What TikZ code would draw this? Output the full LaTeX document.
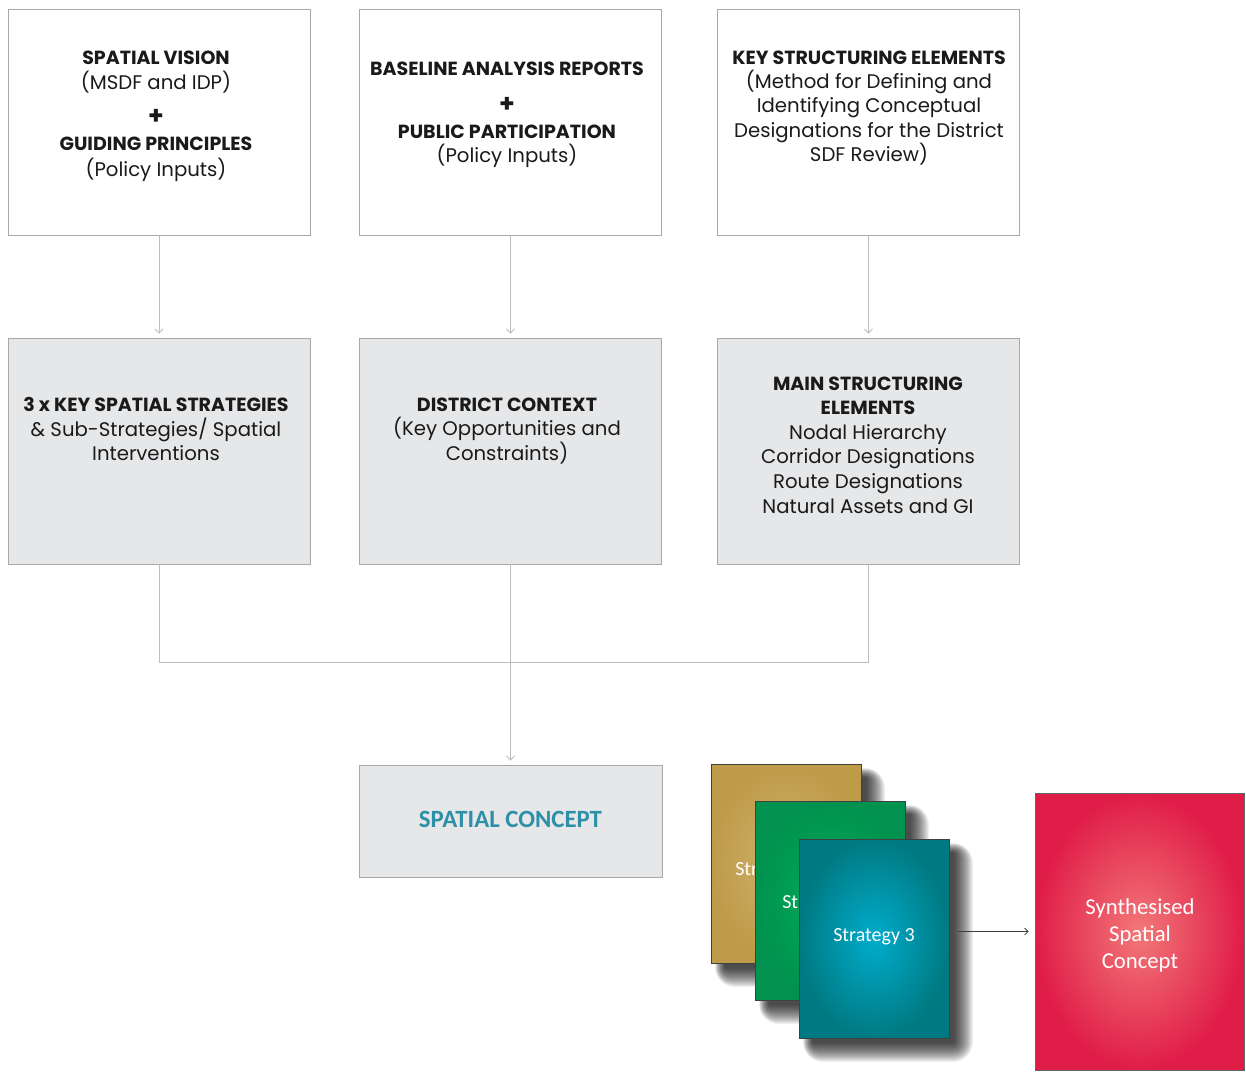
\documentclass[tikz,border=0pt]{standalone}
\usepackage{fontspec}
\setmainfont{Poppins}
\newfontfamily\carlitofont{Carlito}
\usetikzlibrary{arrows.meta,calc}
\definecolor{boxline}{HTML}{A8A8A8}
\definecolor{boxgray}{HTML}{E6E7E9}
\definecolor{conn}{HTML}{BDBDBD}
\definecolor{txt}{HTML}{1A1A1A}
\definecolor{sctxt}{HTML}{2E8FA8}
\newcommand\softshadow[3]{%
  \foreach \i in {0,...,19}{%
    \pgfmathsetmacro\rr{max(0.5,20-\i)}%
    \fill[black,opacity=0.055,rounded corners=\rr pt] ($(#1)+(-#2+4+0.5*\i,-#3+4+0.5*\i)$) rectangle ($(#1)+(#2+24-\i,#3+24-\i)$);
  }}
\tikzset{
  stagebox/.style={draw=boxline, line width=0.9pt, minimum width=302pt, minimum height=226pt, inner sep=0pt},
  whitebox/.style={stagebox, fill=white},
  graybox/.style={stagebox, fill=boxgray},
  btext/.style={align=center, text=txt, font=\fontsize{19.7}{24.6}\selectfont, inner sep=0pt},
  conline/.style={draw=conn, line width=0.9pt},
  conarrow/.style={conline, -{Straight Barb[length=4pt,width=8pt]}, shorten >=4pt},
  card/.style={draw=black!75, line width=0.8pt, minimum width=150pt, minimum height=199pt, inner sep=0pt, shading=radial},
  cardtext/.style={text=white, font=\carlitofont\fontsize{20}{27}\selectfont, align=center, inner sep=0pt},
}
\newcommand\bt[1]{{\bfseries\fontsize{19}{24.6}\selectfont #1}}
\begin{document}
\begin{tikzpicture}[x=1pt,y=-1pt]
\useasboundingbox (0,0) rectangle (1246,1072);
\fill[white] (0,0) rectangle (1246,1072);
% row 1
\node[whitebox] (a1) at (159,122) {};
\node[whitebox] (b1) at (510.5,122) {};
\node[whitebox] (c1) at (868.5,122) {};
% row 2
\node[graybox] (a2) at (159,451) {};
\node[graybox] (b2) at (510.5,451) {};
\node[graybox] (c2) at (868.5,451) {};
% spatial concept
\node[graybox, minimum height=112pt, minimum width=303pt] (sc) at (510.5,821) {};
% texts row 1
\node[btext, font=\fontsize{19.7}{25.5}\selectfont] (ta1) at (156,116) {\bt{SPATIAL VISION}\\(MSDF and IDP)\\[9pt]\bt{\fontsize{25}{24.6}\selectfont +}\\[1pt]\bt{GUIDING PRINCIPLES}\\(Policy Inputs)};
\node[btext] (tb1) at (507,115) {\bt{BASELINE ANALYSIS REPORTS}\\[12pt]\bt{\fontsize{25}{24.6}\selectfont +}\\[1pt]\bt{PUBLIC PARTICIPATION}\\(Policy Inputs)};
\node[btext, font=\fontsize{19.7}{24.3}\selectfont] (tc1) at (869,108) {\bt{KEY STRUCTURING ELEMENTS}\\(Method for Defining and\\Identifying Conceptual\\Designations for the District\\SDF Review)};
% texts row 2
\node[btext] (ta2) at (156,429) {\bt{3 x KEY SPATIAL STRATEGIES}\\\& Sub-Strategies/ Spatial\\Interventions};
\node[btext] (tb2) at (507,431) {\bt{DISTRICT CONTEXT}\\(Key Opportunities and\\Constraints)};
\node[btext] (tc2) at (868,445) {\bt{MAIN STRUCTURING}\\\bt{ELEMENTS}\\Nodal Hierarchy\\Corridor Designations\\Route Designations\\Natural Assets and GI};
\node[text=sctxt, font=\carlitofont\bfseries\fontsize{24.8}{26}\selectfont, inner sep=0pt] (tsc) at (510.5,819) {SPATIAL CONCEPT};
% connectors
\draw[conarrow] (a1.south) -- (a2.north);
\draw[conarrow] (b1.south) -- (b2.north);
\draw[conarrow] (c1.south) -- (c2.north);
\coordinate (j) at (510.5,662);
\draw[conline] (a2.south) -- (a2.south |- j) -- (c2.south |- j) -- (c2.south);
\draw[conarrow] (b2.south) -- (sc.north);
% cards
\coordinate (g1) at (786,863.5);
\coordinate (g2) at (830,900.5);
\coordinate (g3) at (874,938.5);
\softshadow{g1}{75}{99.5}
\node[card, inner color={rgb,255:red,208;green,178;blue,112}, outer color={rgb,255:red,190;green,155;blue,72}] (s1) at (g1) {};
\node[cardtext] (t1) at (776,871) {Strategy 1};
\softshadow{g2}{75}{99.5}
\node[card, inner color={rgb,255:red,0;green,172;blue,92}, outer color={rgb,255:red,0;green,146;blue,78}] (s2) at (g2) {};
\node[cardtext] (t2) at (823,904) {Strategy 2};
\softshadow{g3}{75}{99.5}
\node[card, inner color={rgb,255:red,0;green,172;blue,204}, outer color={rgb,255:red,0;green,122;blue,130}] (s3) at (g3) {};
\node[cardtext] (t3) at (874,937) {Strategy 3};
\node[draw=black!60, line width=0.8pt, minimum width=209pt, minimum height=277pt, inner sep=0pt,
  shading=radial, inner color={rgb,255:red,242;green,120;blue,120}, outer color={rgb,255:red,224;green,28;blue,72}] (ssc) at (1139.5,931.5) {};
\node[cardtext, font=\carlitofont\fontsize{22.7}{27}\selectfont] (tssc) at (1140,935) {Synthesised\\Spatial\\Concept};
\draw[draw=black!75, line width=0.8pt, -{Straight Barb[length=3.5pt,width=7pt]}, shorten <=9pt, shorten >=6pt] (s3.east |- ssc.west) -- (ssc.west);
\end{tikzpicture}
\end{document}
